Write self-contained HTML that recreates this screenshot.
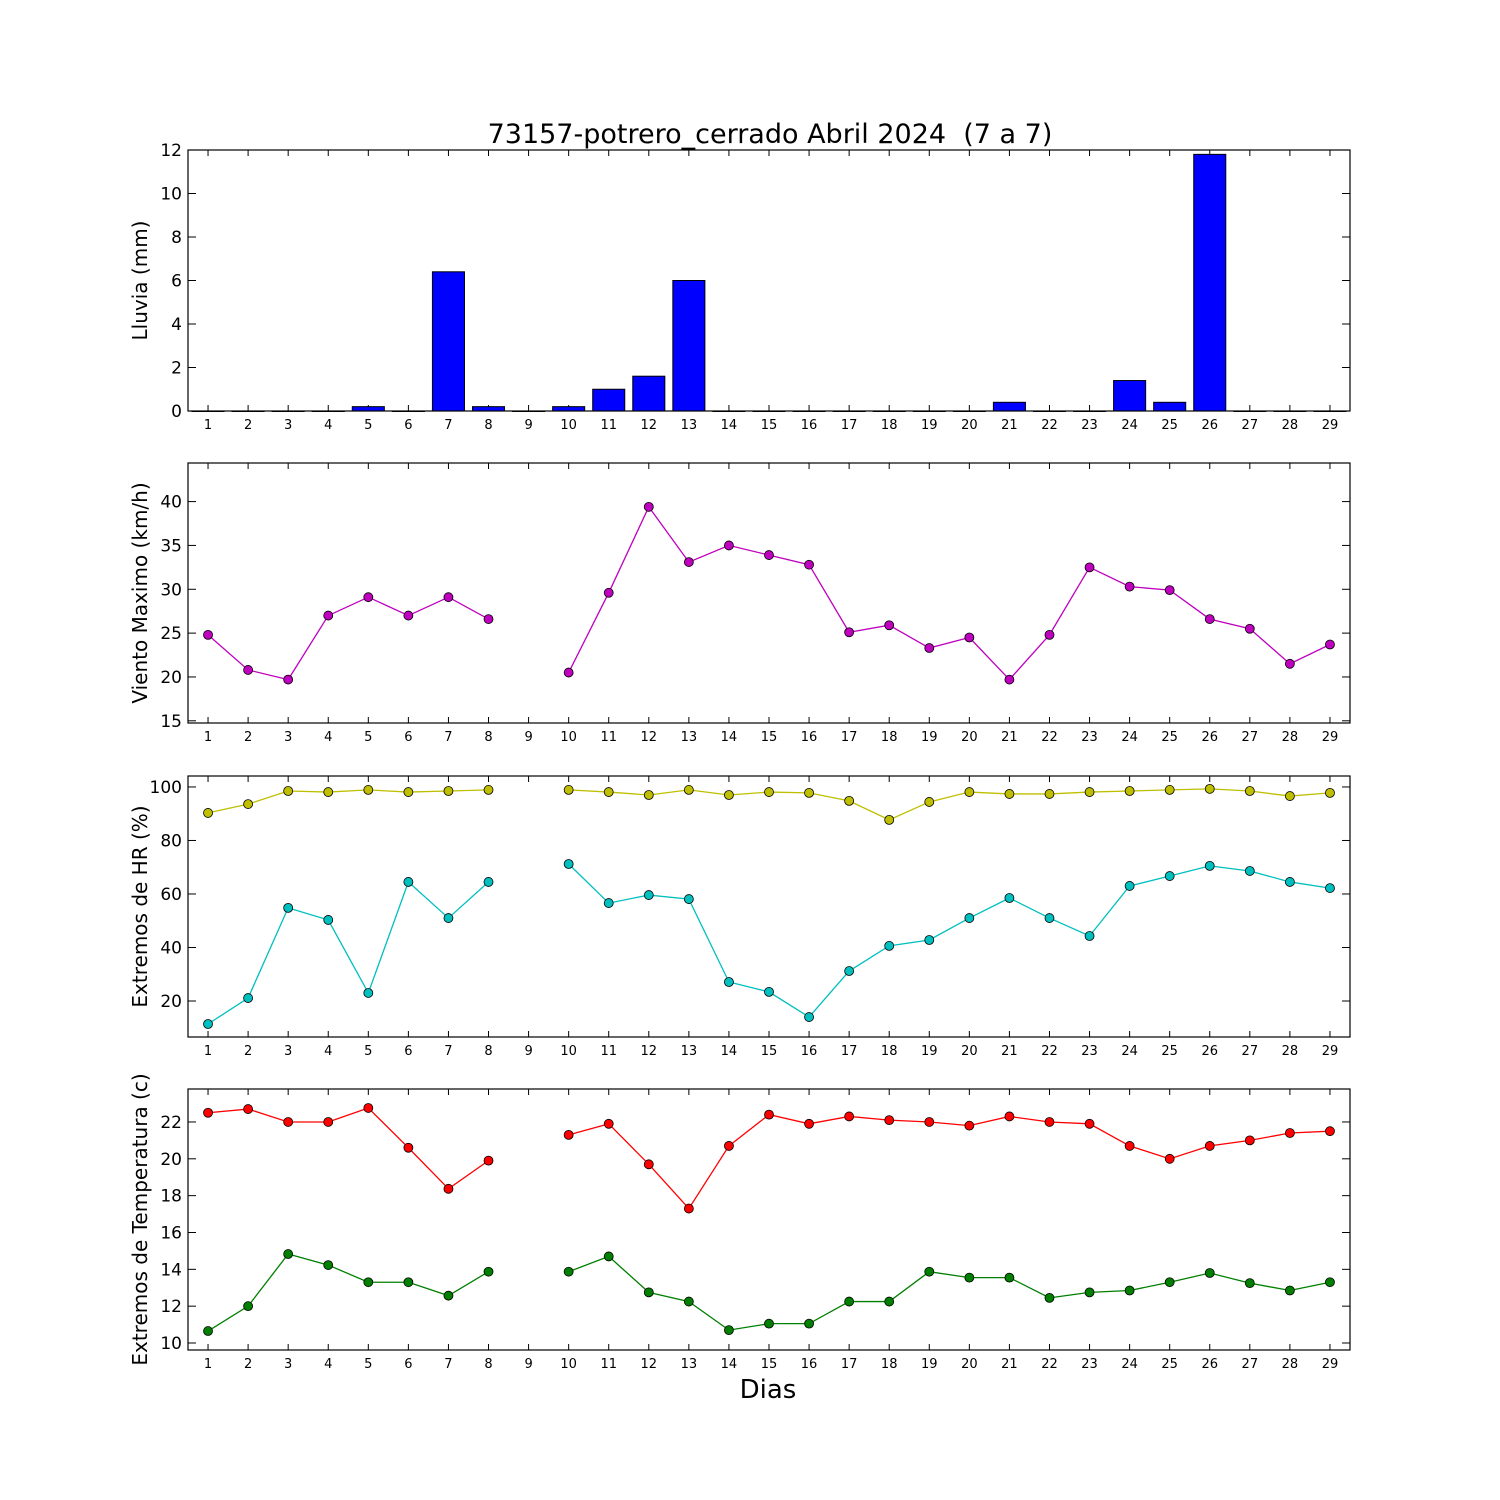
<!DOCTYPE html>
<html><head><meta charset="utf-8"><style>
body{margin:0;background:#fff}
svg{display:block;font-family:"DejaVu Sans","Liberation Sans",sans-serif}
</style></head><body>
<svg id="c" width="1500" height="1500" xmlns="http://www.w3.org/2000/svg">
<text x="770" y="143" font-size="27" text-anchor="middle" xml:space="preserve" style="white-space:pre">73157-potrero_cerrado Abril 2024  (7 a 7)</text>
<text x="768" y="1398" font-size="26" text-anchor="middle">Dias</text>
</svg>
<script>
const days=[1,2,3,4,5,6,7,8,9,10,11,12,13,14,15,16,17,18,19,20,21,22,23,24,25,26,27,28,29];
const rain=[0,0,0,0,0.2,0,6.4,0.2,0,0.2,1.0,1.6,6.0,0,0,0,0,0,0,0,0.4,0,0,1.4,0.4,11.8,0,0,0];
const wind=[24.8,20.8,19.7,27.0,29.1,27.0,29.1,26.6,null,20.5,29.6,39.4,33.1,35.0,33.9,32.8,25.1,25.9,23.3,24.5,19.7,24.8,32.5,30.3,29.9,26.6,25.5,21.5,23.7];
const hrMax=[90.3,93.6,98.5,98.1,98.9,98.1,98.5,98.9,null,98.9,98.1,97,98.9,97,98.1,97.8,94.8,87.7,94.4,98.1,97.4,97.4,98.1,98.5,98.9,99.3,98.5,96.6,97.8];
const hrMin=[11.4,21.1,54.8,50.3,23,64.5,51,64.5,null,71.2,56.6,59.6,58.1,27.1,23.4,14,31.2,40.6,42.8,51,58.5,51,44.3,63,66.7,70.5,68.6,64.5,62.2];
const tMax=[22.5,22.7,22,22,22.76,20.6,18.37,19.9,null,21.3,21.9,19.7,17.3,20.7,22.4,21.9,22.3,22.1,22,21.8,22.3,22,21.9,20.7,20,20.7,21,21.4,21.5];
const tMin=[10.65,12,14.83,14.23,13.3,13.3,12.57,13.87,null,13.87,14.7,12.75,12.25,10.7,11.05,11.05,12.25,12.25,13.87,13.55,13.55,12.45,12.75,12.85,13.3,13.8,13.25,12.85,13.3];
const rainTicks=[0,2,4,6,8,10,12];
const windTicks=[15,20,25,30,35,40];
const hrTicks=[20,40,60,80,100];
const tTicks=[10,12,14,16,18,20,22];

const svg=document.getElementById('c');
const NS='http://www.w3.org/2000/svg';
const L=188,R=1350;
const x=d=>L+(d-0.5)*(R-L)/29;
function mk(t,a,p){const e=document.createElementNS(NS,t);for(const k in a)e.setAttribute(k,a[k]);(p||svg).appendChild(e);return e;}

function panel(name,top,bot,ymin,ymax,ticks,label){
  const g=mk('g',{});
  
  
  const y=v=>bot-(v-ymin)*(bot-top)/(ymax-ymin);
  days.forEach(d=>{
    const X=x(d);
    mk('line',{x1:X,x2:X,y1:bot,y2:bot-6,stroke:'#000'},g);
    mk('line',{x1:X,x2:X,y1:top,y2:top+6,stroke:'#000'},g);
    const t=mk('text',{x:X,y:bot+18,'font-size':13,'text-anchor':'middle'},g);
    t.textContent=d;
    
    
  });
  ticks.forEach(v=>{
    const Y=y(v);
    mk('line',{x1:L,x2:L+8,y1:Y,y2:Y,stroke:'#000'},g);
    mk('line',{x1:R,x2:R-8,y1:Y,y2:Y,stroke:'#000'},g);
    const t=mk('text',{x:L-6,y:Y+6,'font-size':17,'text-anchor':'end'},g);
    t.textContent=v;
    
    
  });
  const yl=mk('text',{x:0,y:0,'font-size':20,'text-anchor':'middle',transform:`translate(147,${(top+bot)/2}) rotate(-90)`},g);
  yl.textContent=label;
  
  
  return {g,y,top,bot};
}
function frame(p,name){
  const r=mk('rect',{x:L,y:p.top,width:R-L,height:p.bot-p.top,fill:'none',stroke:'#000','stroke-width':1.2},p.g);
  
  
}
function series(p,vals,color,name){
  let seg=[];const segs=[];
  vals.forEach((v,i)=>{if(v==null){if(seg.length)segs.push(seg);seg=[];}else seg.push([x(days[i]),p.y(v)]);});
  if(seg.length)segs.push(seg);
  segs.forEach(s=>{
    const l=mk('polyline',{points:s.map(q=>q.join(',')).join(' '),fill:'none',stroke:color,'stroke-width':1.3},p.g);
    
    
  });
  vals.forEach((v,i)=>{if(v==null)return;
    const c=mk('circle',{cx:x(days[i]),cy:p.y(v),r:4.5,fill:color,stroke:'#000','stroke-width':0.8},p.g);
    
    
  });
}

const p1=panel('rain',150,411,0,12,rainTicks,'Lluvia (mm)');
rain.forEach((v,i)=>{
  const X=x(days[i]);const w=(R-L)/29*0.8;
  const b=mk('rect',{x:X-w/2,y:p1.y(v),width:w,height:Math.max(p1.bot-p1.y(v),0.5),fill:'#0000ff',stroke:'#000','stroke-width':1},p1.g);
  
  
});
frame(p1,'rain');

const p2=panel('wind',463,723,14.75,44.4,windTicks,'Viento Maximo (km/h)');
series(p2,wind,'#bf00bf','wind');frame(p2,'wind');

const p3=panel('humidity',776,1037,6.54,104.1,hrTicks,'Extremos de HR (%)');
series(p3,hrMax,'#bfbf00','hr-max');series(p3,hrMin,'#00bfbf','hr-min');frame(p3,'humidity');

const p4=panel('temperature',1089,1350,9.62,23.79,tTicks,'Extremos de Temperatura (c)');
series(p4,tMax,'#ff0000','temp-max');series(p4,tMin,'#007f00','temp-min');frame(p4,'temperature');
</script>
</body></html>
